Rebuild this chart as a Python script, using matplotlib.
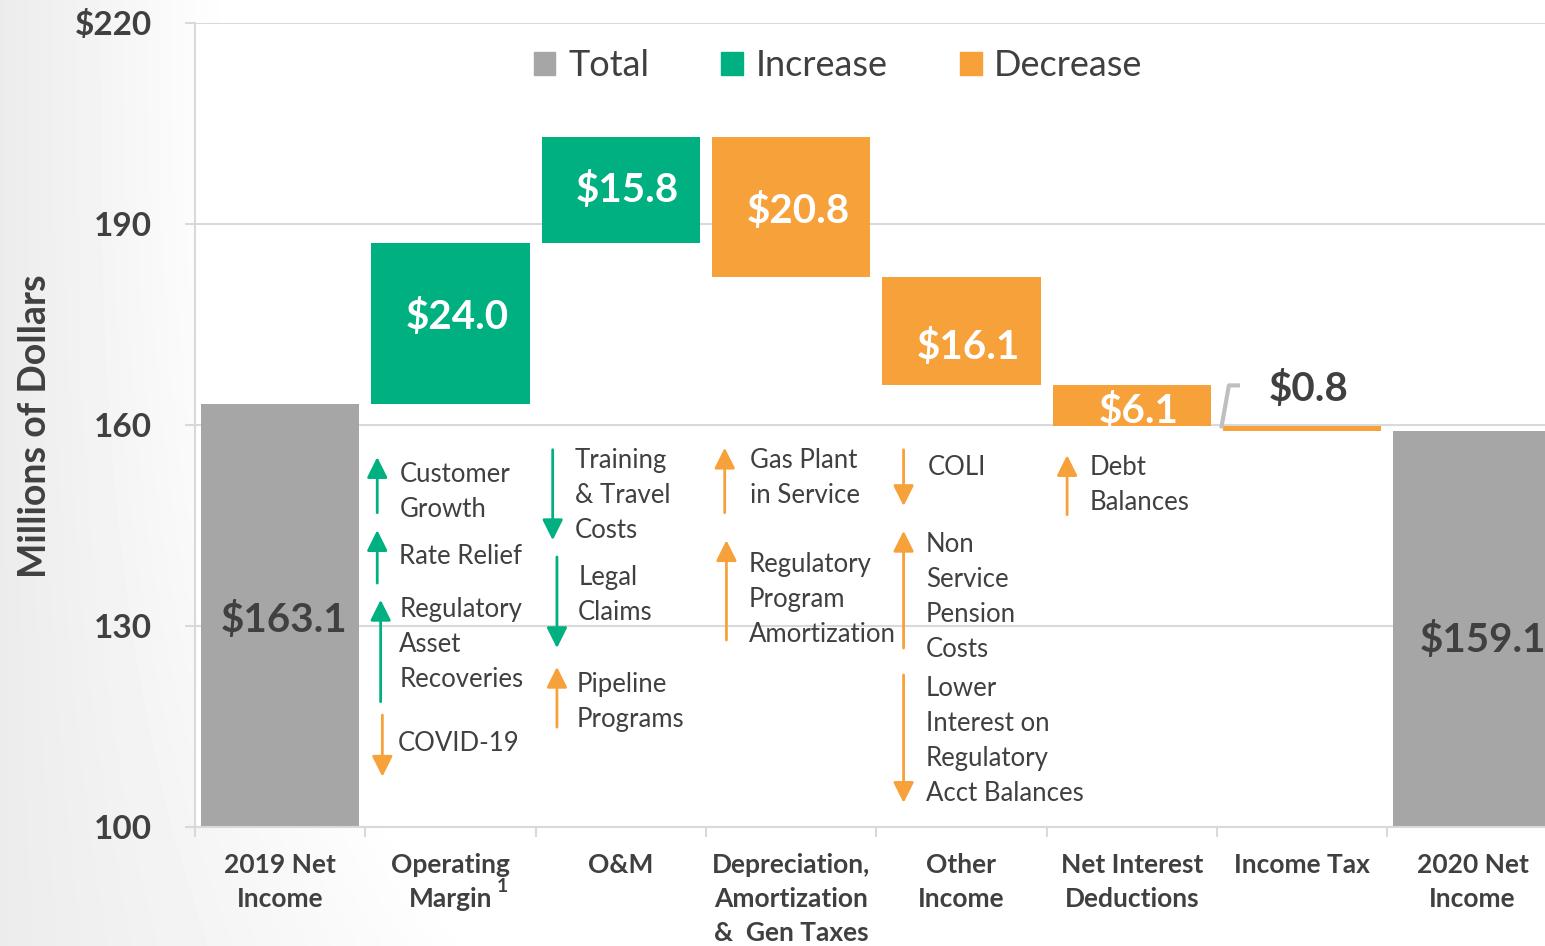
import matplotlib
matplotlib.use("Agg")
import matplotlib.pyplot as plt
import matplotlib.transforms as mtransforms
import numpy as np
from matplotlib.patches import Patch

plt.rcParams["font.family"] = ["Lato", "DejaVu Sans"]

# ---- data ----
CATEGORIES = [
    "2019 Net\nIncome",
    "Operating\nMargin",
    "O&M",
    "Depreciation,\nAmortization\n&  Gen Taxes",
    "Other\nIncome",
    "Net Interest\nDeductions",
    "Income Tax",
    "2020 Net\nIncome",
]
FOOTNOTE_CATEGORY = 1
FOOTNOTE_MARK = "1"
START_TOTAL = 163.1
CHANGES = [24.0, 15.8, -20.8, -16.1, -6.1, -0.8]
END_TOTAL = 159.1

Y_TICKS = [100, 130, 160, 190, 220]
Y_TICK_LABELS = ["100", "130", "160", "190", "$220"]
LEGEND_LABELS = ["Total", "Increase", "Decrease"]

DRIVER_LABELS = [
    "Customer\nGrowth",
    "Rate Relief",
    "Regulatory\nAsset\nRecoveries",
    "COVID-19",
    "Training\n& Travel\nCosts",
    "Legal\nClaims",
    "Pipeline\nPrograms",
    "Gas Plant\nin Service",
    "Regulatory\nProgram\nAmortization",
    "COLI",
    "Non\nService\nPension\nCosts",
    "Lower\nInterest on\nRegulatory\nAcct Balances",
    "Debt\nBalances",
]
DRIVER_CATEGORY = [1, 1, 1, 1, 2, 2, 2, 3, 3, 4, 4, 4, 5]
DRIVER_DIRECTION = ["up", "up", "up", "down", "down", "down", "up",
                    "up", "up", "down", "up", "down", "up"]
DRIVER_EFFECT = ["inc", "inc", "inc", "dec", "inc", "inc", "dec",
                 "dec", "dec", "dec", "dec", "dec", "dec"]

# ---- layout of the driver notes and labels (position only) ----
ARROW_X_OFFSET = [-0.43, -0.43, -0.41, -0.40, -0.40, -0.375, -0.375,
                  -0.39, -0.38, -0.34, -0.34, -0.34, -0.38]
ARROW_SPAN = [(146.9, 155.2), (136.4, 144.3), (118.7, 133.9), (107.5, 116.7),
              (142.8, 156.3), (126.7, 140.3), (114.9, 123.9),
              (146.9, 156.6), (127.9, 142.8),
              (147.9, 156.3), (126.7, 144.2), (103.6, 122.7),
              (146.6, 155.5)]
TEXT_X_OFFSET = [-0.30, -0.30, -0.30, -0.31, -0.27, -0.25, -0.26,
                 -0.24, -0.25, -0.20, -0.21, -0.21, -0.25]
TEXT_Y = [150.0, 140.4, 127.3, 112.5, 149.5, 134.6, 118.6,
          152.1, 134.0, 153.7, 134.3, 112.9, 151.0]
LABEL_Y_SHIFT = [1.0, 0.0, -0.6, -2.4, -0.8]

GRAY = "#a6a6a6"
GREEN = "#00b081"
ORANGE = "#f7a13a"
DARK = "#404040"
LIGHT = "#d9d9d9"
BASE = 100


def main():
    fig = plt.figure(figsize=(15.45, 9.46), dpi=100)

    # slide background: light gray fading to white on the left
    bg = fig.add_axes([0, 0, 1, 1], zorder=-10)
    xx = np.linspace(0, 1545, 300)
    yy = np.linspace(0, 946, 100)
    X, Y = np.meshgrid(xx, yy)
    reach = 230 + 250 * (Y / 946.0) ** 3
    shade = 1 - 0.075 * np.clip(1 - X / reach, 0, 1)
    bg.imshow(shade, cmap="gray", vmin=0, vmax=1, aspect="auto",
              extent=[0, 1, 0, 1], interpolation="bilinear")
    bg.axis("off")

    ax = fig.add_axes([0.1262, 0.1258, 0.882, 0.850])
    ax.set_facecolor("white")
    ax.set_axisbelow(True)

    n = len(CATEGORIES)
    x = np.arange(n)
    width = 0.93

    # totals
    ax.bar([0, n - 1], [START_TOTAL - BASE, END_TOTAL - BASE], bottom=BASE,
           width=width, color=GRAY)

    levels = START_TOTAL + np.cumsum([0] + CHANGES)
    for i, change in enumerate(CHANGES):
        prev = levels[i]
        bottom = min(prev, prev + change)
        color = GREEN if change > 0 else ORANGE
        ax.bar(i + 1, abs(change), bottom=bottom, width=width, color=color)
        if abs(change) >= 2:
            ax.text(i + 1 + 0.04, bottom + abs(change) / 2 + LABEL_Y_SHIFT[i],
                    f"${abs(change):.1f}", ha="center", va="center",
                    color="white", fontsize=29, fontweight="bold")
        else:
            ax.text(i + 1 + 0.04, bottom + 6.2, f"${abs(change):.1f}",
                    ha="center", va="center", color=DARK, fontsize=29,
                    fontweight="bold")
            ax.plot([i + 1 - 0.475, i + 1 - 0.43, i + 1 - 0.365],
                    [bottom + abs(change) / 2, bottom + 6.8, bottom + 6.8],
                    color="#bfbfbf", lw=3, solid_capstyle="butt")

    ax.text(0 + 0.02, (BASE + START_TOTAL) / 2 - 0.6, f"${START_TOTAL:.1f}",
            ha="center", va="center", color=DARK, fontsize=29, fontweight="bold")
    ax.text(n - 1 + 0.06, (BASE + END_TOTAL) / 2 - 1.6, f"${END_TOTAL:.1f}",
            ha="center", va="center", color=DARK, fontsize=29, fontweight="bold")

    # driver notes
    for k, label in enumerate(DRIVER_LABELS):
        cat = DRIVER_CATEGORY[k]
        color = GREEN if DRIVER_EFFECT[k] == "inc" else ORANGE
        lo, hi = ARROW_SPAN[k]
        ax_x = cat + ARROW_X_OFFSET[k]
        if DRIVER_DIRECTION[k] == "up":
            tail, head = lo, hi
        else:
            tail, head = hi, lo
        ax.annotate("", xy=(ax_x, head), xytext=(ax_x, tail),
                    arrowprops=dict(arrowstyle="-|>,head_length=0.5,head_width=0.25",
                                    color=color, lw=2, mutation_scale=25,
                                    shrinkA=0, shrinkB=0))
        ax.text(cat + TEXT_X_OFFSET[k], TEXT_Y[k], label, ha="left", va="center",
                fontsize=18.5, color=DARK, linespacing=1.5)

    # axes styling
    ax.set_xlim(-0.5, n - 0.5)
    ax.set_ylim(100, 220)
    ax.set_yticks(Y_TICKS)
    ax.set_yticklabels(Y_TICK_LABELS, fontsize=24, fontweight="bold", color=DARK)
    ax.yaxis.grid(True, color=LIGHT, lw=1.5)
    ax.tick_params(axis="y", length=7, width=1.5, color=LIGHT, pad=24)

    ax.set_xticks(np.arange(-0.5, n, 1))
    ax.set_xticklabels([])
    ax.set_xticks(x, minor=True)
    ax.set_xticklabels(CATEGORIES, minor=True, fontsize=19, fontweight="bold",
                       color=DARK, linespacing=1.5, va="top")
    ax.tick_params(axis="x", which="major", length=7, width=1.5, color=LIGHT)
    ax.tick_params(axis="x", which="minor", length=0, pad=19)

    # footnote mark on "Margin"
    trans = mtransforms.blended_transform_factory(ax.transData, ax.transAxes)
    ax.text(FOOTNOTE_CATEGORY + 0.305, -0.074, FOOTNOTE_MARK, transform=trans,
            ha="center", va="center", fontsize=14, fontweight="bold", color=DARK,
            clip_on=False)

    for side in ["top", "right"]:
        ax.spines[side].set_visible(False)
    for side in ["left", "bottom"]:
        ax.spines[side].set_color(LIGHT)
        ax.spines[side].set_linewidth(1.5)

    fig.text(0.0227, 0.549, "Millions of Dollars", rotation=90, ha="center",
             va="center", fontsize=27, fontweight="bold", color=DARK)

    handles = [Patch(color=GRAY), Patch(color=GREEN), Patch(color=ORANGE)]
    ax.legend(handles, LEGEND_LABELS, loc="center", bbox_to_anchor=(0.472, 0.947),
              ncol=3, frameon=False, fontsize=26, handlelength=0.6,
              handleheight=0.6, handletextpad=0.35, columnspacing=2.0,
              labelcolor=DARK)

    fig.savefig("out.png", dpi=100)


if __name__ == "__main__":
    main()
